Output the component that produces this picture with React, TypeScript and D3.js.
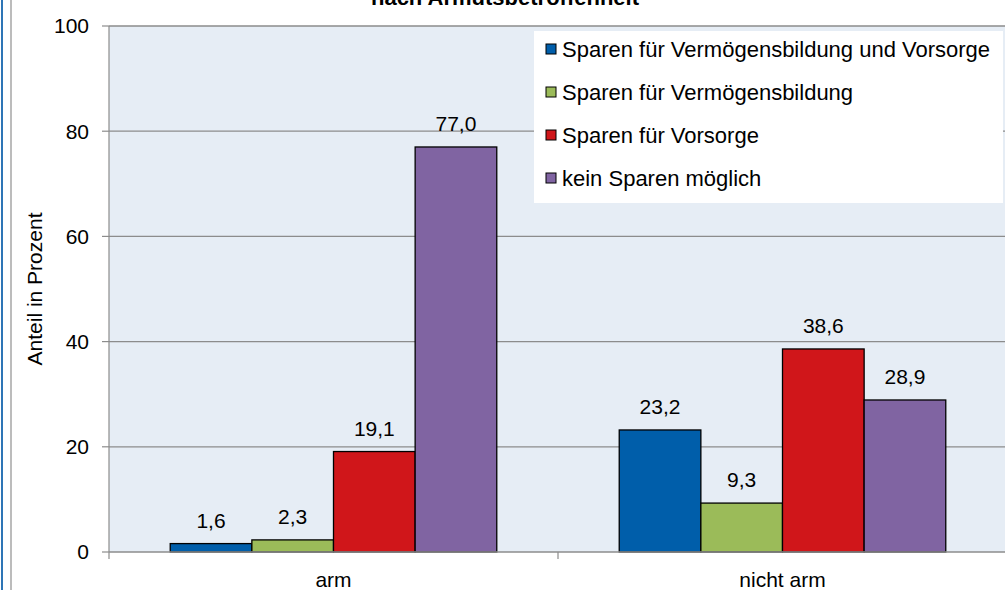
import React from "react";
import * as d3 from "d3";

const categories = ["arm", "nicht arm"];
const seriesNames = [
  "Sparen für Vermögensbildung und Vorsorge",
  "Sparen für Vermögensbildung",
  "Sparen für Vorsorge",
  "kein Sparen möglich",
];
const seriesColors = ["#005EAA", "#9BBB59", "#D0161A", "#8064A2"];
// values per series, in category order
const vermoegenUndVorsorge = [1.6, 23.2];
const nurVermoegen = [2.3, 9.3];
const nurVorsorge = [19.1, 38.6];
const keinSparen = [77.0, 28.9];
const yTicks = [0, 20, 40, 60, 80, 100];

const seriesValues = [vermoegenUndVorsorge, nurVermoegen, nurVorsorge, keinSparen];

const W = 1005;
const H = 590;
const left = 109;
const right = 1007;
const top = 26;
const bottom = 552;

const fmt = (v: number) => v.toFixed(1).replace(".", ",");

export default function App() {
  const x0 = d3.scaleBand().domain(categories).range([left, right]);
  const x1 = d3
    .scaleBand()
    .domain(seriesNames)
    .range([0, x0.bandwidth()])
    .paddingOuter(0.75)
    .paddingInner(0);
  const y = d3.scaleLinear().domain([0, 100]).range([bottom, top]);

  const font = "'Liberation Sans', Arial, sans-serif";

  return (
    <svg
      width={W}
      height={H}
      style={{ position: "absolute", left: 0, top: 0, background: "#fff" }}
      fontFamily={font}
    >
      {/* outer frame bits */}
      <rect x={1} y={0} width={2} height={H} fill="#2E75B6" />
      <line x1={11} x2={11} y1={0} y2={H} stroke="#A6A6A6" strokeWidth={1.5} />

      {/* title (cut off at top, as in the source) */}
      <text x={505} y={5} textAnchor="middle" fontSize={22} fontWeight="bold" fill="#000">
        nach Armutsbetroffenheit
      </text>

      {/* plot area */}
      <rect x={left} y={top} width={right - left} height={bottom - top} fill="#E6EDF5" />

      {yTicks.map((t) => (
        <g key={t}>
          {t > 0 && (
            <line x1={left} x2={right} y1={y(t)} y2={y(t)} stroke="#8C8C8C" strokeWidth={1.2} />
          )}
          <line x1={left - 7} x2={left} y1={y(t)} y2={y(t)} stroke="#8C8C8C" strokeWidth={1.2} />
          <text x={left - 20} y={y(t)} dy="0.35em" textAnchor="end" fontSize={21} fill="#000">
            {t}
          </text>
        </g>
      ))}

      {/* bars */}
      {categories.map((c, ci) => (
        <g key={c} transform={`translate(${x0(c)},0)`}>
          {seriesNames.map((s, si) => {
            const v = seriesValues[si][ci];
            const bx = x1(s)!;
            return (
              <g key={s}>
                <rect
                  x={bx}
                  y={y(v)}
                  width={x1.bandwidth()}
                  height={bottom - y(v)}
                  fill={seriesColors[si]}
                  stroke="#000"
                  strokeWidth={1.3}
                />
                <text
                  x={bx + x1.bandwidth() / 2}
                  y={y(v) - 16}
                  textAnchor="middle"
                  fontSize={21}
                  fill="#000"
                >
                  {fmt(v)}
                </text>
              </g>
            );
          })}
        </g>
      ))}

      {/* axes */}
      <line x1={left} x2={left} y1={top} y2={bottom + 7} stroke="#8C8C8C" strokeWidth={1.2} />
      <line x1={left} x2={right} y1={bottom} y2={bottom} stroke="#8C8C8C" strokeWidth={1.5} />
      <line x1={left} x2={right} y1={top} y2={top} stroke="#8C8C8C" strokeWidth={1.2} />
      {categories.slice(1).map((c) => (
        <line key={c} x1={x0(c)} x2={x0(c)} y1={bottom} y2={bottom + 7} stroke="#8C8C8C" strokeWidth={1.2} />
      ))}
      {categories.map((c) => (
        <text
          key={c}
          x={x0(c)! + x0.bandwidth() / 2}
          y={bottom + 28}
          dy="0.35em"
          textAnchor="middle"
          fontSize={21}
          fill="#000"
        >
          {c}
        </text>
      ))}

      <text
        transform={`translate(35,${(top + bottom) / 2}) rotate(-90)`}
        textAnchor="middle"
        dy="0.35em"
        fontSize={21}
        fill="#000"
      >
        Anteil in Prozent
      </text>

      {/* legend */}
      <g>
        <rect x={534} y={31} width={469} height={172} fill="#fff" />
        {seriesNames.map((s, i) => {
          const cy = 49 + i * 43;
          return (
            <g key={s}>
              <rect x={546} y={cy - 5} width={10} height={10} fill={seriesColors[i]} stroke="#000" strokeWidth={1} />
              <text x={562} y={cy} dy="0.35em" fontSize={22} fill="#000">
                {s}
              </text>
            </g>
          );
        })}
      </g>
    </svg>
  );
}
